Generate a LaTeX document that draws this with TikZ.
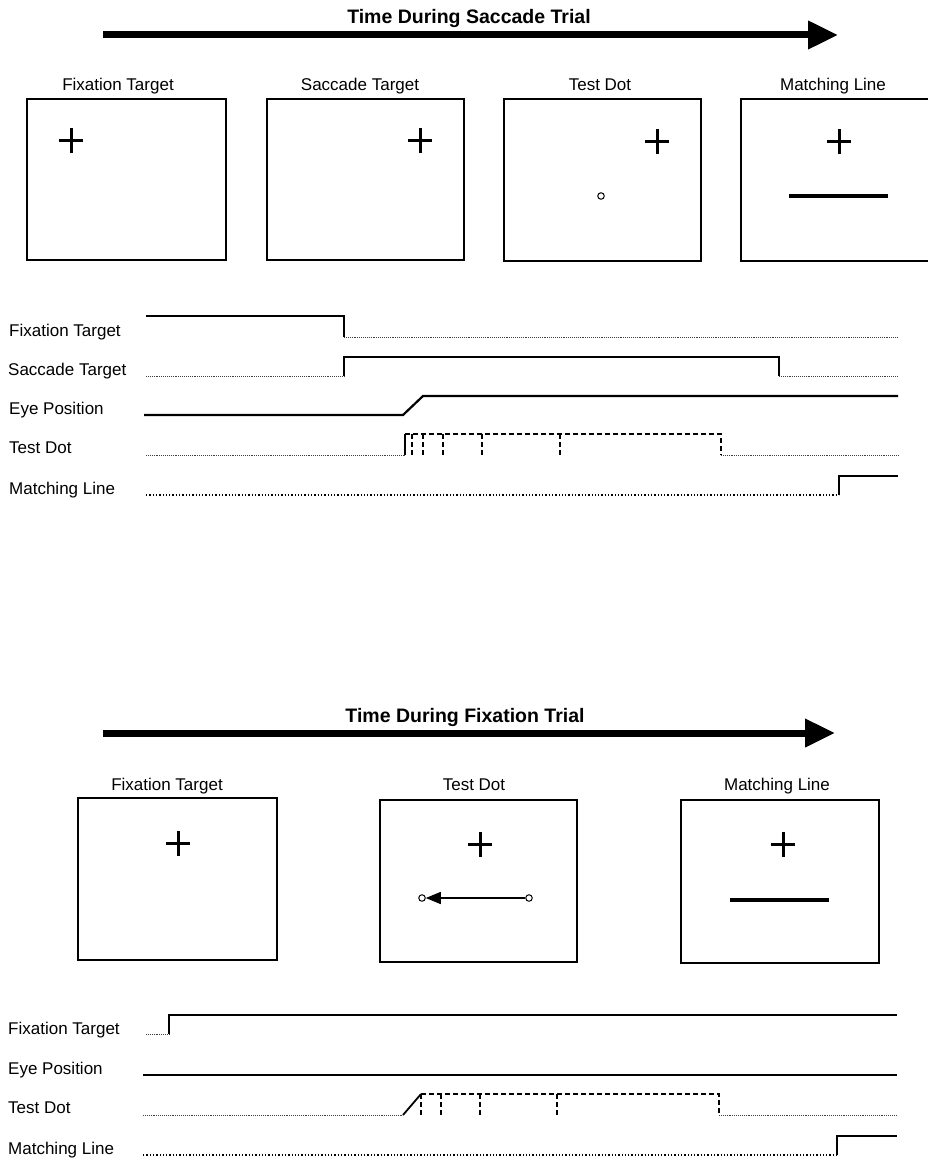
\documentclass[tikz,border=0pt]{standalone}
\usepackage{fontspec}
\setmainfont{Liberation Sans}
\usetikzlibrary{arrows.meta}

\begin{document}
\begin{tikzpicture}[x=1pt,y=-1pt,
  screen/.style={draw, line width=2pt, inner sep=0pt, rectangle},
  lab/.style={font=\fontsize{17}{20}\selectfont, inner sep=0pt, anchor=base},
  rowlab/.style={lab, anchor=base west},
  title/.style={font=\bfseries\fontsize{19.5}{23}\selectfont, inner sep=0pt, anchor=base},
  timearrow/.style={line width=7pt, -{Triangle[length=30pt,width=27pt]}},
  sigon/.style={line width=2.2pt},
  sigoff/.style={line width=1pt, dash pattern=on 1pt off 0.9pt, black!75},
  sigdots/.style={line width=1.3pt, dash pattern=on 1.3pt off 2pt},
  flash/.style={line width=1.8pt, dash pattern=on 5pt off 3pt},
  probe/.style={circle, draw, line width=1pt, inner sep=0pt, minimum size=6.5pt},
  matchbar/.style={line width=3.4pt},
  fixcross/.pic={\draw[line width=3pt] (-12pt,0pt) -- (12pt,0pt) (0pt,-12.5pt) -- (0pt,12.5pt);}
]
\useasboundingbox (0,0) rectangle (928,1158);

% ---------------- saccade trial ----------------
\node[title] (t1) at (469,24) {Time During Saccade Trial};
\coordinate (a1s) at (103,35);
\coordinate (a1e) at (838,35);
\draw[timearrow] (a1s) -- (a1e);

\node[screen, minimum width=199pt, minimum height=161pt] (s1) at (126.5,179.5) {};
\node[screen, minimum width=197pt, minimum height=161pt] (s2) at (365.5,179.5) {};
\node[screen, minimum width=197pt, minimum height=162pt] (s3) at (602.5,180) {};
\node[screen, minimum width=198pt, minimum height=162pt] (s4) at (840,180) {};

\node[lab] (l1) at (118,91) {Fixation Target};
\node[lab] (l2) at (360,91) {Saccade Target};
\node[lab] (l3) at (600,91) {Test Dot};
\node[lab] (l4) at (833,91) {Matching Line};

\pic at (71,141) {fixcross};
\pic at (420,141) {fixcross};
\pic at (657,142) {fixcross};
\pic at (839,142) {fixcross};
\node[probe] (d1) at (601,196) {};
\draw[matchbar] (789,196) -- (888,196);

% signal rows
\node[rowlab] (r1) at (9,336) {Fixation Target};
\node[rowlab] (r2) at (8,375) {Saccade Target};
\node[rowlab] (r3) at (9,414) {Eye Position};
\node[rowlab] (r4) at (9,453) {Test Dot};
\node[rowlab] (r5) at (9,494) {Matching Line};

% fixation target
\draw[sigon] (146,316) -- (344,316) -- (344,337);
\draw[sigoff] (344,337) -- (898,337);
% saccade target
\draw[sigoff] (146,376) -- (344,376);
\draw[sigon] (344,376) -- (344,357) -- (779,357) -- (779,376);
\draw[sigoff] (779,376) -- (898,376);
% eye position
\draw[sigon] (144,415) -- (403,415) -- (423,396) -- (898,396);
% test dot
\draw[sigoff] (146,455) -- (405,455);
\draw[line width=1.8pt] (405,455) -- (405,434);
\draw[flash] (405,434) -- (721,434) -- (721,455);
\foreach \x in {412,423,443,482,560} \draw[flash] (\x,434) -- (\x,455);
\draw[sigoff] (721,455) -- (898,455);
% matching line
\draw[sigdots] (146,495) -- (839,495);
\draw[sigon] (839,495) -- (839,476) -- (898,476);

% ---------------- fixation trial ----------------
\node[title] (t2) at (465,722) {Time During Fixation Trial};
\coordinate (a2s) at (103,733);
\coordinate (a2e) at (835,733);
\draw[timearrow] (a2s) -- (a2e);

\node[screen, minimum width=199pt, minimum height=162pt] (f1) at (177.5,879) {};
\node[screen, minimum width=197pt, minimum height=162pt] (f2) at (478.5,881) {};
\node[screen, minimum width=198pt, minimum height=163pt] (f3) at (780,881.5) {};

\node[lab] (m1) at (167,790) {Fixation Target};
\node[lab] (m2) at (474,790) {Test Dot};
\node[lab] (m3) at (777,790) {Matching Line};

\pic at (178,843) {fixcross};
\pic at (480,844) {fixcross};
\pic at (783,844) {fixcross};

\node[probe] (pa) at (529,898) {};
\node[probe] (pb) at (422,898) {};
\draw[line width=1.4pt, -{Triangle[length=15pt,width=12pt]}] (pa) -- (pb);
\draw[matchbar] (730,900) -- (829,900);

% signal rows
\node[rowlab] (q1) at (8,1034) {Fixation Target};
\node[rowlab] (q2) at (8,1074) {Eye Position};
\node[rowlab] (q3) at (8,1113) {Test Dot};
\node[rowlab] (q4) at (8,1154) {Matching Line};

% fixation target
\draw[sigoff] (146,1034) -- (169,1034);
\draw[sigon] (169,1034) -- (169,1015) -- (897,1015);
% eye position
\draw[sigon] (143,1075) -- (897,1075);
% test dot
\draw[sigoff] (143,1115) -- (403,1115);
\draw[line width=1.8pt] (403,1115) -- (421,1094);
\draw[flash] (421,1094) -- (719,1094) -- (719,1115);
\foreach \x in {421,441,480,557} \draw[flash] (\x,1094) -- (\x,1115);
\draw[sigoff] (719,1115) -- (897,1115);
% matching line
\draw[sigdots] (143,1155) -- (837,1155);
\draw[sigon] (837,1155) -- (837,1136) -- (897,1136);
\end{tikzpicture}
\end{document}
